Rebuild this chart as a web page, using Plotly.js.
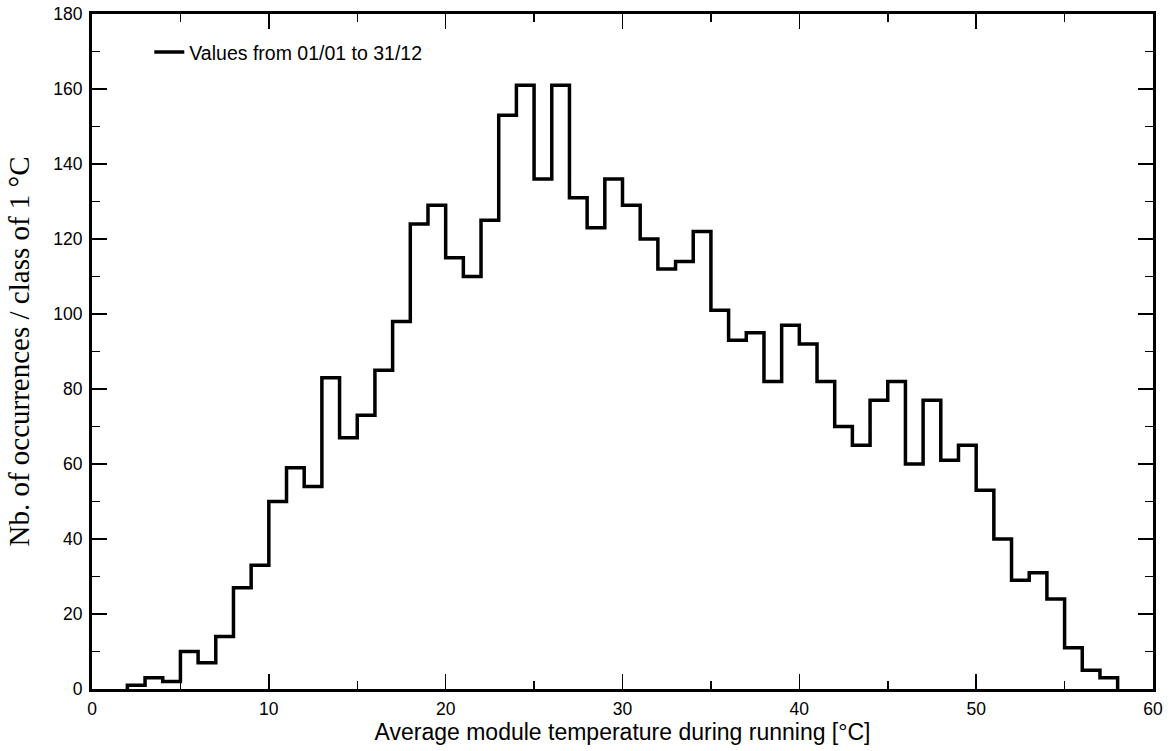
<!DOCTYPE html>
<html>
<head>
<meta charset="utf-8">
<script src="https://cdn.plot.ly/plotly-3.0.1.min.js"></script>
<style>html,body{margin:0;padding:0;background:#fff;}#chart{width:1171px;height:751px;}</style>
</head>
<body>
<div id="chart"></div>
<script>
// Bin lower edges (°C), class width 1 °C
const binStart = 2;
const binEnd = 58;
const counts = [1, 3, 2, 10, 7, 14, 27, 33, 50, 59, 54, 83, 67, 73, 85, 98, 124, 129, 115, 110,
  125, 153, 161, 136, 161, 131, 123, 136, 129, 120, 112, 114, 122, 101, 93, 95, 82, 97, 92, 82,
  70, 65, 77, 82, 60, 77, 61, 65, 53, 40, 29, 31, 24, 11, 5, 3];
const seriesName = 'Values from 01/01 to 31/12';
const xTitle = 'Average module temperature during running [°C]';
const yTitle = 'Nb. of occurrences / class of 1 °C';

const xs = [binStart];
const ys = [0];
counts.forEach((c, i) => { xs.push(binStart + i); ys.push(c); });
xs.push(binEnd); ys.push(0);

const trace = {
  x: xs, y: ys, type: 'scatter', mode: 'lines',
  line: {shape: 'hv', color: '#000', width: 3.5},
  name: seriesName, showlegend: true
};

const axisCommon = {
  showline: true, linecolor: '#000', linewidth: 3, mirror: 'ticks',
  ticks: 'inside', ticklen: 15, tickwidth: 1.5, tickcolor: '#000',
  showgrid: false, zeroline: false,
  tickfont: {family: 'Liberation Sans, Arial, sans-serif', size: 17.5, color: '#000'}
};

const layout = {
  width: 1171, height: 751,
  margin: {l: 92, r: 18, t: 14, b: 62},
  paper_bgcolor: '#fff', plot_bgcolor: '#fff',
  showlegend: true,
  legend: {x: 0.054, y: 0.972, xanchor: 'left', yanchor: 'top', bgcolor: 'rgba(0,0,0,0)',
    font: {family: 'Liberation Sans, Arial, sans-serif', size: 19.5, color: '#000'}},
  xaxis: Object.assign({}, axisCommon, {
    range: [0, 60], dtick: 10, tick0: 0, ticklabelstandoff: 2,
    minor: {dtick: 5, ticks: 'inside', ticklen: 8, tickwidth: 1.5, tickcolor: '#000', showgrid: false},
    title: {text: xTitle, standoff: 4, font: {family: 'Liberation Sans, Arial, sans-serif', size: 23, color: '#000'}}
  }),
  yaxis: Object.assign({}, axisCommon, {
    range: [0, 180], dtick: 20, tick0: 0, ticklabelstandoff: 3,
    minor: {dtick: 10, ticks: 'inside', ticklen: 8, tickwidth: 1.5, tickcolor: '#000', showgrid: false},
    title: {text: yTitle, standoff: 16, font: {family: 'Liberation Serif, Times New Roman, serif', size: 29, color: '#000'}}
  })
};

Plotly.newPlot('chart', [trace], layout, {displayModeBar: false, staticPlot: true});
</script>
</body>
</html>
